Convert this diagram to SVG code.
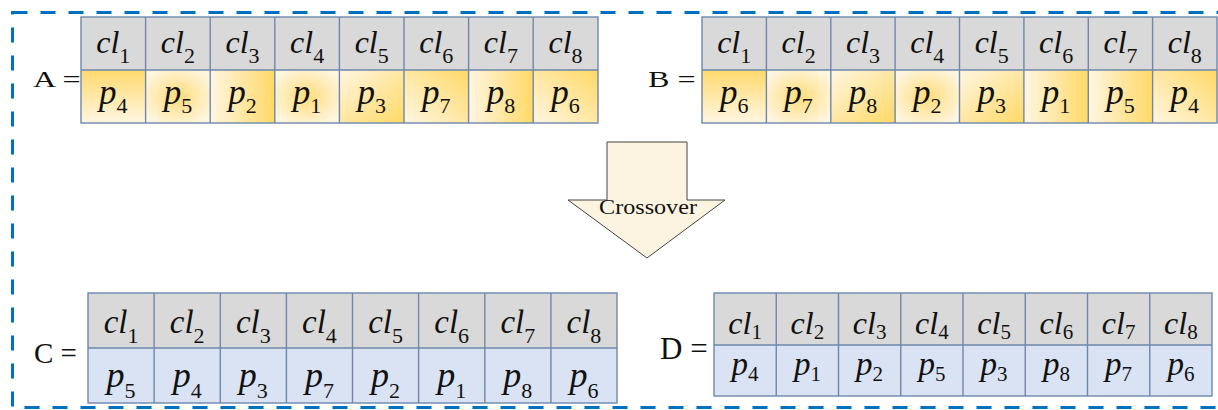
<svg xmlns="http://www.w3.org/2000/svg" width="1218" height="410" viewBox="0 0 1218 410">
<style>
.frame{fill:none;stroke:#0070C0;stroke-width:3;stroke-dasharray:15 13}
.hd{fill:#D9D9D9}
.bl{fill:#DAE3F3}
.grid{fill:none;stroke:#6E88AC;stroke-width:1.4}
text{font-family:'Liberation Serif','Times New Roman',serif;fill:#111}
.t{font-style:italic;text-anchor:middle}
.ca{font-size:32px}
.pa{font-size:35px}
.cc{font-size:33px}
.pc{font-size:36px}
.cd{font-size:32px}
.pd{font-size:33px}
.s{font-style:normal;font-size:22px}
.sd{font-style:normal;font-size:21px}
.arrow{fill:#FCF3E0;stroke:#444;stroke-width:1}
</style>
<defs>
<linearGradient id="gTop" x1="0" y1="0" x2="0" y2="1"><stop offset="0" stop-color="#FFDA6E"/><stop offset="1" stop-color="#FFF6E2"/></linearGradient>
<radialGradient id="gRad" cx="0.5" cy="0.5" r="0.6"><stop offset="0" stop-color="#FFDC78"/><stop offset="1" stop-color="#FFF6E2"/></radialGradient>
<linearGradient id="gRight" x1="0" y1="0" x2="1" y2="0"><stop offset="0" stop-color="#FFF6E2"/><stop offset="1" stop-color="#FFD966"/></linearGradient>
<linearGradient id="gBR" x1="0" y1="0" x2="1" y2="1"><stop offset="0" stop-color="#FFF6E2"/><stop offset="1" stop-color="#FFD966"/></linearGradient>
<linearGradient id="gTR" x1="0" y1="1" x2="1" y2="0"><stop offset="0" stop-color="#FFF6E2"/><stop offset="1" stop-color="#FFD966"/></linearGradient>
</defs>
<rect class="frame" x="12.5" y="12.5" width="1216" height="395"/>

<g id="table-A">
<text transform="translate(33,87) scale(1.4,1)" font-size="23">A =</text>
<rect class="hd" x="81" y="17" width="517" height="53"/>
<rect x="81" y="70" width="64.6" height="53" fill="url(#gTop)"/>
<rect x="145.6" y="70" width="64.6" height="53" fill="url(#gRad)"/>
<rect x="210.2" y="70" width="64.6" height="53" fill="url(#gRight)"/>
<rect x="274.8" y="70" width="64.6" height="53" fill="url(#gRad)"/>
<rect x="339.4" y="70" width="64.6" height="53" fill="url(#gBR)"/>
<rect x="404" y="70" width="64.6" height="53" fill="url(#gTR)"/>
<rect x="468.6" y="70" width="64.6" height="53" fill="url(#gRight)"/>
<rect x="533.2" y="70" width="64.8" height="53" fill="url(#gTR)"/>
<rect class="grid" x="81" y="17" width="517" height="106"/>
<path class="grid" d="M81 70H598M145.6 17V123M210.2 17V123M274.8 17V123M339.4 17V123M404 17V123M468.6 17V123M533.2 17V123"/>
<text class="t ca" x="113.3" y="53">cl<tspan class="s" dy="10">1</tspan></text>
<text class="t ca" x="177.9" y="53">cl<tspan class="s" dy="10">2</tspan></text>
<text class="t ca" x="242.5" y="53">cl<tspan class="s" dy="10">3</tspan></text>
<text class="t ca" x="307.1" y="53">cl<tspan class="s" dy="10">4</tspan></text>
<text class="t ca" x="371.7" y="53">cl<tspan class="s" dy="10">5</tspan></text>
<text class="t ca" x="436.3" y="53">cl<tspan class="s" dy="10">6</tspan></text>
<text class="t ca" x="500.9" y="53">cl<tspan class="s" dy="10">7</tspan></text>
<text class="t ca" x="565.5" y="53">cl<tspan class="s" dy="10">8</tspan></text>
<text class="t pa" x="113.3" y="104">p<tspan class="s" dy="9">4</tspan></text>
<text class="t pa" x="177.9" y="104">p<tspan class="s" dy="9">5</tspan></text>
<text class="t pa" x="242.5" y="104">p<tspan class="s" dy="9">2</tspan></text>
<text class="t pa" x="307.1" y="104">p<tspan class="s" dy="9">1</tspan></text>
<text class="t pa" x="371.7" y="104">p<tspan class="s" dy="9">3</tspan></text>
<text class="t pa" x="436.3" y="104">p<tspan class="s" dy="9">7</tspan></text>
<text class="t pa" x="500.9" y="104">p<tspan class="s" dy="9">8</tspan></text>
<text class="t pa" x="565.5" y="104">p<tspan class="s" dy="9">6</tspan></text>
</g>

<g id="table-B">
<text transform="translate(648,87) scale(1.4,1)" font-size="23">B =</text>
<rect class="hd" x="702" y="17" width="515" height="53"/>
<rect x="702" y="70" width="64.4" height="53" fill="url(#gTop)"/>
<rect x="766.4" y="70" width="64.4" height="53" fill="url(#gRad)"/>
<rect x="830.8" y="70" width="64.3" height="53" fill="url(#gBR)"/>
<rect x="895.1" y="70" width="64.4" height="53" fill="url(#gRad)"/>
<rect x="959.5" y="70" width="64.4" height="53" fill="url(#gBR)"/>
<rect x="1023.9" y="70" width="64.4" height="53" fill="url(#gRight)"/>
<rect x="1088.3" y="70" width="64.3" height="53" fill="url(#gRight)"/>
<rect x="1152.6" y="70" width="64.4" height="53" fill="url(#gTR)"/>
<rect class="grid" x="702" y="17" width="515" height="106"/>
<path class="grid" d="M702 70H1217M766.4 17V123M830.8 17V123M895.1 17V123M959.5 17V123M1023.9 17V123M1088.3 17V123M1152.6 17V123"/>
<text class="t ca" x="734.2" y="53">cl<tspan class="s" dy="10">1</tspan></text>
<text class="t ca" x="798.6" y="53">cl<tspan class="s" dy="10">2</tspan></text>
<text class="t ca" x="863" y="53">cl<tspan class="s" dy="10">3</tspan></text>
<text class="t ca" x="927.3" y="53">cl<tspan class="s" dy="10">4</tspan></text>
<text class="t ca" x="991.7" y="53">cl<tspan class="s" dy="10">5</tspan></text>
<text class="t ca" x="1056.1" y="53">cl<tspan class="s" dy="10">6</tspan></text>
<text class="t ca" x="1120.5" y="53">cl<tspan class="s" dy="10">7</tspan></text>
<text class="t ca" x="1184.8" y="53">cl<tspan class="s" dy="10">8</tspan></text>
<text class="t pa" x="734.2" y="104">p<tspan class="s" dy="9">6</tspan></text>
<text class="t pa" x="798.6" y="104">p<tspan class="s" dy="9">7</tspan></text>
<text class="t pa" x="863" y="104">p<tspan class="s" dy="9">8</tspan></text>
<text class="t pa" x="927.3" y="104">p<tspan class="s" dy="9">2</tspan></text>
<text class="t pa" x="991.7" y="104">p<tspan class="s" dy="9">3</tspan></text>
<text class="t pa" x="1056.1" y="104">p<tspan class="s" dy="9">1</tspan></text>
<text class="t pa" x="1120.5" y="104">p<tspan class="s" dy="9">5</tspan></text>
<text class="t pa" x="1184.8" y="104">p<tspan class="s" dy="9">4</tspan></text>
</g>

<g id="connectors">
<g id="crossover">
<polygon class="arrow" points="607,142 687,142 687,200 725,200 647,258 568,200 607,200"/>
<text transform="translate(648,214) scale(1.15,1)" font-size="21" text-anchor="middle" fill="#333">Crossover</text>
</g>
</g>

<g id="table-C">
<text x="34" y="363" font-size="29">C =</text>
<rect class="hd" x="88" y="293" width="529" height="55"/>
<rect class="bl" x="88" y="348" width="529" height="55"/>
<rect class="grid" x="88" y="293" width="529" height="110"/>
<path class="grid" d="M88 348H617M154.1 293V403M220.3 293V403M286.4 293V403M352.5 293V403M418.6 293V403M484.8 293V403M550.9 293V403"/>
<text class="t cc" x="121.1" y="333">cl<tspan class="s" dy="10">1</tspan></text>
<text class="t cc" x="187.2" y="333">cl<tspan class="s" dy="10">2</tspan></text>
<text class="t cc" x="253.3" y="333">cl<tspan class="s" dy="10">3</tspan></text>
<text class="t cc" x="319.4" y="333">cl<tspan class="s" dy="10">4</tspan></text>
<text class="t cc" x="385.6" y="333">cl<tspan class="s" dy="10">5</tspan></text>
<text class="t cc" x="451.7" y="333">cl<tspan class="s" dy="10">6</tspan></text>
<text class="t cc" x="517.8" y="333">cl<tspan class="s" dy="10">7</tspan></text>
<text class="t cc" x="583.9" y="333">cl<tspan class="s" dy="10">8</tspan></text>
<text class="t pc" x="121.1" y="387">p<tspan class="s" dy="11">5</tspan></text>
<text class="t pc" x="187.2" y="387">p<tspan class="s" dy="11">4</tspan></text>
<text class="t pc" x="253.3" y="387">p<tspan class="s" dy="11">3</tspan></text>
<text class="t pc" x="319.4" y="387">p<tspan class="s" dy="11">7</tspan></text>
<text class="t pc" x="385.6" y="387">p<tspan class="s" dy="11">2</tspan></text>
<text class="t pc" x="451.7" y="387">p<tspan class="s" dy="11">1</tspan></text>
<text class="t pc" x="517.8" y="387">p<tspan class="s" dy="11">8</tspan></text>
<text class="t pc" x="583.9" y="387">p<tspan class="s" dy="11">6</tspan></text>
</g>

<g id="table-D">
<text x="660" y="359" font-size="31">D =</text>
<rect class="hd" x="714" y="293" width="498" height="52"/>
<rect class="bl" x="714" y="345" width="498" height="51"/>
<rect class="grid" x="714" y="293" width="498" height="103"/>
<path class="grid" d="M714 345H1212M776.25 293V396M838.5 293V396M900.75 293V396M963 293V396M1025.25 293V396M1087.5 293V396M1149.75 293V396"/>
<text class="t cd" x="745.1" y="334">cl<tspan class="sd" dy="5">1</tspan></text>
<text class="t cd" x="807.4" y="334">cl<tspan class="sd" dy="5">2</tspan></text>
<text class="t cd" x="869.6" y="334">cl<tspan class="sd" dy="5">3</tspan></text>
<text class="t cd" x="931.9" y="334">cl<tspan class="sd" dy="5">4</tspan></text>
<text class="t cd" x="994.1" y="334">cl<tspan class="sd" dy="5">5</tspan></text>
<text class="t cd" x="1056.4" y="334">cl<tspan class="sd" dy="5">6</tspan></text>
<text class="t cd" x="1118.6" y="334">cl<tspan class="sd" dy="5">7</tspan></text>
<text class="t cd" x="1180.9" y="334">cl<tspan class="sd" dy="5">8</tspan></text>
<text class="t pd" x="745.1" y="375">p<tspan class="sd" dy="6">4</tspan></text>
<text class="t pd" x="807.4" y="375">p<tspan class="sd" dy="6">1</tspan></text>
<text class="t pd" x="869.6" y="375">p<tspan class="sd" dy="6">2</tspan></text>
<text class="t pd" x="931.9" y="375">p<tspan class="sd" dy="6">5</tspan></text>
<text class="t pd" x="994.1" y="375">p<tspan class="sd" dy="6">3</tspan></text>
<text class="t pd" x="1056.4" y="375">p<tspan class="sd" dy="6">8</tspan></text>
<text class="t pd" x="1118.6" y="375">p<tspan class="sd" dy="6">7</tspan></text>
<text class="t pd" x="1180.9" y="375">p<tspan class="sd" dy="6">6</tspan></text>
</g>
</svg>
